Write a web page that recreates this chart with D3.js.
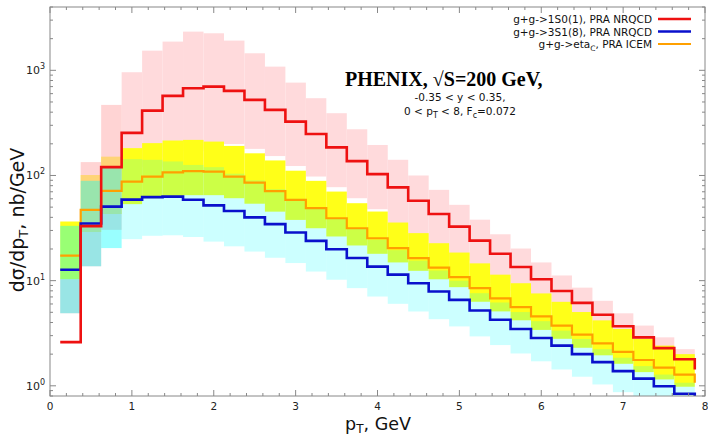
<!DOCTYPE html>
<html>
<head>
<meta charset="utf-8">
<script src="https://cdn.jsdelivr.net/npm/d3@7"></script>
<style>
  body { margin: 0; background: #fff; }
  svg { font-family: "DejaVu Sans", sans-serif; }
</style>
</head>
<body>
<svg width="708" height="436"></svg>
<script>

// bin centres, GeV (bin width 0.25)
var pt = [0.25, 0.5, 0.75, 1.0, 1.25, 1.5, 1.75, 2.0, 2.25, 2.5, 2.75, 3.0, 3.25, 3.5, 3.75, 4.0,
          4.25, 4.5, 4.75, 5.0, 5.25, 5.5, 5.75, 6.0, 6.25, 6.5, 6.75, 7.0, 7.25, 7.5, 7.75];

// g+g->1S0(1), PRA NRQCD
var red    = [2.6, 33, 120, 254, 414, 571, 676, 700, 637, 523, 421, 325, 248, 185, 137, 103,
              77, 57.5, 43, 32.6, 24, 18, 13.5, 10.3, 7.96, 6.15, 4.74, 3.69, 2.89, 2.28, 1.79];
var redHi  = [10.3, 134, 469, 959, 1538, 1875, 2333, 2250, 1917, 1452, 1084, 764, 543, 391, 275, 195,
              141, 100, 73, 52.6, 38, 27.6, 20.2, 14.9, 11.2, 8.58, 6.43, 4.89, 3.74, 2.89, 2.23];
var redLo  = [4.9, 13.7, 30.4, 100, 120, 150, 170, 180, 199, 179, 153, 123, 97.7, 77.4, 60.8, 47.8,
              30, 24, 19, 15.5, 12, 9.5, 8, 6.4, 5.3, 4.2, 3.5, 2.9, 2.35, 2.0, 1.7];
var redEnd = 1.43;

// g+g->3S1(8), PRA NRQCD
var blue   = [12.7, 34.9, 50.6, 59, 62.2, 63, 58.7, 52, 46, 40, 34.5, 28.7, 23.9, 19.9, 16.4, 13.6,
              11.4, 9.46, 7.88, 6.57, 5.2, 4.25, 3.47, 2.85, 2.41, 2.0, 1.68, 1.38, 1.17, 0.99, 0.84];
var blueHi = [33.2, 89, 123, 143, 141, 136, 126, 120, 104, 90, 74, 60, 49, 39, 31, 24.5,
              19.5, 15.5, 12.5, 10, 7.6, 6.2, 5.03, 4.12, 3.35, 2.79, 2.23, 1.85, 1.54, 1.28, 1.07];
var blueLo = [4.9, 13.7, 20.4, 24.8, 26.7, 27, 26, 23.5, 21.2, 18.9, 16.5, 14.7, 12.2, 10.2, 8.49, 7.06,
              6.02, 5.09, 4.3, 3.67, 2.95, 2.44, 2.03, 1.71, 1.43, 1.22, 1.03, 0.87, 0.74, 0.63, 0.55];
var blueEnd = 0.7;

// g+g->eta_c, PRA ICEM
var orange   = [17.3, 47, 71.4, 87.5, 97.6, 107, 110, 109, 97.6, 85.7, 71, 58.6, 48.9, 39.2, 31.5, 25.3,
                20.4, 16.4, 13.3, 10.8, 8.5, 6.78, 5.59, 4.57, 3.74, 3.07, 2.53, 2.1, 1.76, 1.49, 1.28];
var orangeHi = [36.5, 101, 151, 182, 203, 215, 218, 210, 191, 162.5, 139, 111, 88.9, 70.3, 54.5, 45.4,
                35.7, 28.3, 22.7, 18.5, 14.6, 11.4, 9.45, 7.56, 6.29, 5.03, 4.19, 3.47, 2.79, 2.41, 2.0];
var orangeLo = [10.3, 29, 43, 53.4, 60.8, 63, 65, 65, 60.8, 53.9, 45.3, 37.8, 31.5, 26.3, 21.6, 18,
                14.9, 12.4, 10.3, 8.67, 6.3, 5.1, 4.2, 3.4, 2.8, 2.3, 1.95, 1.62, 1.35, 1.15, 0.98];
var orangeEnd = 1.07;

var xTicks = [0, 1, 2, 3, 4, 5, 6, 7, 8];
var yTicks = [1, 10, 100, 1000];

var svg = d3.select('svg'),
    margin = {left: 50, right: 3, top: 7, bottom: 40},
    width = +svg.attr('width'),
    height = +svg.attr('height');

var x = d3.scaleLinear().domain([0, 8]).range([margin.left, width - margin.right]);
var y = d3.scaleLog().domain([0.8, 4000]).range([height - margin.bottom, margin.top]);

var half = 0.125;
var bins = pt.map(function(p, i) { return {i: i, p: p, alt: p < 0.875}; });

svg.append('clipPath').attr('id', 'clip')
  .append('rect')
    .attr('x', x(0)).attr('y', y(4000))
    .attr('width', x(8) - x(0)).attr('height', y(0.8) - y(4000));

var plot = svg.append('g').attr('clip-path', 'url(#clip)');

function band(data, lo, hi, fill, opacity) {
  plot.append('g')
    .selectAll('rect')
    .data(data)
    .enter().append('rect')
      .attr('x', function(d) { return x(d.p - half); })
      .attr('width', function(d) { return x(d.p + half) - x(d.p - half); })
      .attr('y', function(d) { return y(hi[d.i]); })
      .attr('height', function(d) { return y(lo[d.i]) - y(hi[d.i]); })
      .attr('fill', fill)
      .attr('fill-opacity', opacity);
}

// low-pT bins are drawn with a heavier overlay, as in the original
band(bins.filter(function(d) { return !d.alt; }), redLo, redHi, '#ffdadc', 1);
band(bins, orangeLo, orangeHi, '#ffff18', 1);
band(bins.filter(function(d) { return d.alt; }), redLo, redHi, '#ffb7b7', 0.6);
band(bins.filter(function(d) { return d.alt; }), blueLo, blueHi, '#00ffff', 0.4);
band(bins.filter(function(d) { return !d.alt; }), blueLo, blueHi, '#00ffff', 0.2);

function steps(vals, end) {
  var pts = vals.map(function(v, i) { return [pt[i] - half, v]; });
  pts.push([pt[pt.length - 1] + half, end]);
  return pts;
}

var line = d3.line()
  .x(function(d) { return x(d[0]); })
  .y(function(d) { return y(d[1]); })
  .curve(d3.curveStepAfter);

var series = [
  {vals: red, end: redEnd, color: '#ee1111', w: 2.6, label: 'g+g->1S0(1), PRA NRQCD'},
  {vals: blue, end: blueEnd, color: '#0a10cc', w: 2.6, label: 'g+g->3S1(8), PRA NRQCD'},
  {vals: orange, end: orangeEnd, color: '#ffa000', w: 2.2, label: 'g+g->eta', sub: 'C', after: ', PRA ICEM'}
];

plot.selectAll('path.s')
  .data(series.slice().reverse())
  .enter().append('path')
    .attr('class', 's')
    .attr('fill', 'none')
    .attr('stroke', function(d) { return d.color; })
    .attr('stroke-width', function(d) { return d.w; })
    .attr('d', function(d) { return line(steps(d.vals, d.end)); });

// frame and ticks
var axisColor = '#888';
var g = svg.append('g').attr('stroke', axisColor).attr('stroke-width', 1);

g.append('rect')
  .attr('x', x(0)).attr('y', y(4000))
  .attr('width', x(8) - x(0)).attr('height', y(0.8) - y(4000))
  .attr('fill', 'none');

var xMinor = d3.range(0, 8.001, 0.2);
xMinor.forEach(function(t) {
  var major = Math.abs(t - Math.round(t)) < 1e-6;
  var len = major ? 6 : 3;
  g.append('line').attr('x1', x(t)).attr('x2', x(t)).attr('y1', y(0.8)).attr('y2', y(0.8) - len);
  g.append('line').attr('x1', x(t)).attr('x2', x(t)).attr('y1', y(4000)).attr('y2', y(4000) + len);
});

y.ticks().forEach(function(t) {
  var major = yTicks.indexOf(t) >= 0;
  var len = major ? 6 : 3;
  g.append('line').attr('y1', y(t)).attr('y2', y(t)).attr('x1', x(0)).attr('x2', x(0) + len);
  g.append('line').attr('y1', y(t)).attr('y2', y(t)).attr('x1', x(8)).attr('x2', x(8) - len);
});

svg.append('g')
  .selectAll('text')
  .data(xTicks)
  .enter().append('text')
    .attr('x', function(d) { return x(d); })
    .attr('y', 410)
    .attr('text-anchor', 'middle')
    .attr('font-size', 10.5)
    .attr('fill', '#222')
    .text(function(d) { return d; });

var yl = svg.append('g')
  .selectAll('text')
  .data(yTicks)
  .enter().append('text')
    .attr('x', 26)
    .attr('y', function(d) { return y(d) + 4; })
    .attr('font-size', 11)
    .attr('fill', '#222');
yl.append('tspan').text('10');
yl.append('tspan').attr('dy', -5).attr('font-size', 8).text(function(d) { return Math.round(Math.log10(d)); });

// axis titles
var xt = svg.append('text')
  .attr('x', 378).attr('y', 430)
  .attr('text-anchor', 'middle')
  .attr('font-size', 17.5)
  .attr('fill', '#111');
xt.append('tspan').text('p');
xt.append('tspan').attr('font-size', 12).attr('dy', 3).text('T');
xt.append('tspan').attr('dy', -3).text(', GeV');

var yt = svg.append('text')
  .attr('transform', 'translate(24,' + 220 + ') rotate(-90)')
  .attr('text-anchor', 'middle')
  .attr('font-size', 19)
  .attr('fill', '#111');
yt.append('tspan').text('dσ/dp');
yt.append('tspan').attr('font-size', 13).attr('dy', 4).text('T');
yt.append('tspan').attr('dy', -4).text(', nb/GeV');

// title block
svg.append('text')
  .attr('x', 345).attr('y', 86)
  .attr('font-family', '"Liberation Serif", serif')
  .attr('font-weight', 'bold')
  .attr('font-size', 20)
  .attr('fill', '#000')
  .text('PHENIX, √S=200 GeV,');

svg.append('text')
  .attr('x', 460).attr('y', 101)
  .attr('text-anchor', 'middle')
  .attr('font-size', 10.5)
  .attr('fill', '#111')
  .text('-0.35 < y < 0.35,');

var st = svg.append('text')
  .attr('x', 460).attr('y', 115)
  .attr('text-anchor', 'middle')
  .attr('font-size', 10.5)
  .attr('fill', '#111');
st.append('tspan').text('0 < p');
st.append('tspan').attr('font-size', 8).attr('dy', 3).text('T');
st.append('tspan').attr('dy', -3).text(' < 8, F');
st.append('tspan').attr('font-size', 8).attr('dy', 3).text('c');
st.append('tspan').attr('dy', -3).text('=0.072');

// legend
var leg = svg.append('g')
  .selectAll('g')
  .data(series)
  .enter().append('g')
    .attr('transform', function(d, i) { return 'translate(0,' + (19 + i * 12.5) + ')'; });

leg.append('line')
  .attr('x1', 658).attr('x2', 691)
  .attr('stroke', function(d) { return d.color; })
  .attr('stroke-width', function(d) { return d.w; });

var lt = leg.append('text')
  .attr('x', 652).attr('y', 4)
  .attr('text-anchor', 'end')
  .attr('font-size', 10.5)
  .attr('fill', '#111');
lt.append('tspan').text(function(d) { return d.label; });
lt.filter(function(d) { return d.sub; }).append('tspan')
  .attr('font-size', 7.5).attr('dy', 3).text(function(d) { return d.sub; });
lt.filter(function(d) { return d.after; }).append('tspan')
  .attr('dy', -3).text(function(d) { return d.after; });

</script>
</body>
</html>
